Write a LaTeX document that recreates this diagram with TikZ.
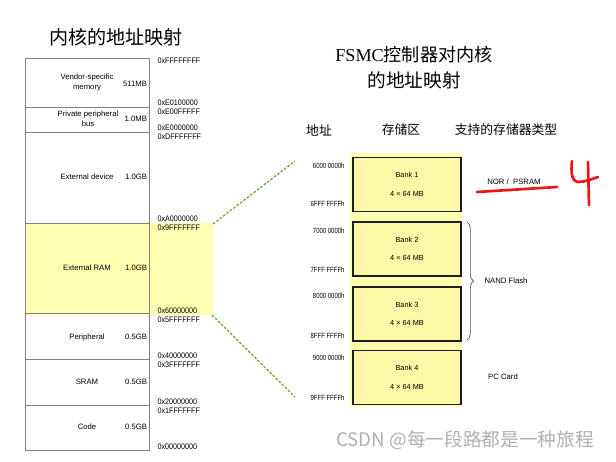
\documentclass[tikz,border=0pt]{standalone}
\usepackage{fontspec}
\setmainfont{Liberation Sans}
\newfontfamily\cjk{Noto Sans CJK SC}
\newfontfamily\titlerm{Liberation Serif}
\newfontfamily\hexsans[FakeStretch=0.9]{Liberation Sans}
\newfontfamily\addrsans[FakeStretch=0.8]{Liberation Sans}
\usetikzlibrary{decorations.pathreplacing}

\definecolor{mapgray}{RGB}{130,130,130}
\definecolor{ramyellow}{RGB}{255,255,178}
\definecolor{bankyellow}{RGB}{252,248,165}
\definecolor{linkgreen}{RGB}{105,165,50}
\definecolor{markred}{RGB}{240,20,20}
\definecolor{wmgray}{RGB}{175,175,175}

\tikzset{every picture/.style={line width=0.75pt}}
\tikzset{
  memtxt/.style={inner sep=0.75pt, font=\fontsize{5.8}{7.5}\selectfont, align=center},
  hexlbl/.style={anchor=west, inner sep=0.75pt, font=\hexsans\fontsize{6}{7}\selectfont},
  addrlbl/.style={anchor=east, inner sep=0.75pt, font=\addrsans\fontsize{5.6}{6}\selectfont},
  bankbox/.style={draw={rgb,255:red,30;green,30;blue,30}, fill=bankyellow, line width=1.1pt,
    minimum width=81pt, minimum height=40.5pt, inner sep=0pt, align=center,
    font=\fontsize{5.5}{14}\selectfont},
  typetxt/.style={inner sep=0.75pt, font=\fontsize{5.8}{7}\selectfont},
  headtxt/.style={inner sep=0.75pt, font=\cjk\fontsize{9.6}{11}\selectfont},
}

\begin{document}
\begin{tikzpicture}[x=0.75pt,y=0.75pt,yscale=-1,xscale=1]
\useasboundingbox (0,0) rectangle (616,461);

%Shape: Rectangle (highlight of external RAM)
\fill [ramyellow] (25,223) rectangle (213,315);
%Shape: Rectangle (memory map)
\draw [mapgray] (25,58) rectangle (149,450);
\foreach \y in {107,132,223,313,359,405}
  \draw [mapgray] (25,\y) -- (149,\y);

% Text Node
\draw (116,37) node [inner sep=0.75pt] [font=\cjk\fontsize{14.3}{16}\selectfont] (ttlcore) {内核的地址映射};

% region names
\draw (87,82) node [memtxt] (vend) {Vendor-specific\\memory};
\draw (88,119) node [memtxt] (ppb) {Private peripheral\\bus};
\draw (87,177) node [memtxt] (extdev) {External device};
\draw (87,268) node [memtxt] (extram) {External RAM};
\draw (87,337) node [memtxt] (periph) {Peripheral};
\draw (87,382) node [memtxt] (sram) {SRAM};
\draw (87,427) node [memtxt] (code) {Code};

% region sizes
\draw (148.5,84) node [memtxt,anchor=east] (vendsz) {511MB};
\draw (148.5,119) node [memtxt,anchor=east] (ppbsz) {1.0MB};
\draw (148.5,177) node [memtxt,anchor=east] (extdevsz) {1.0GB};
\draw (148.5,268) node [memtxt,anchor=east] (extramsz) {1.0GB};
\draw (148.5,337) node [memtxt,anchor=east] (periphsz) {0.5GB};
\draw (148.5,382) node [memtxt,anchor=east] (sramsz) {0.5GB};
\draw (148.5,427) node [memtxt,anchor=east] (codesz) {0.5GB};

% boundary addresses
\draw (156,61) node [hexlbl] (hFFFF) {0xFFFFFFFF};
\draw (156,103) node [hexlbl] (hE010) {0xE0100000};
\draw (156,112) node [hexlbl] (hE00F) {0xE00FFFFF};
\draw (156,128) node [hexlbl] (hE000) {0xE0000000};
\draw (156,137) node [hexlbl] (hDFFF) {0xDFFFFFFF};
\draw (156,219) node [hexlbl] (hA000) {0xA0000000};
\draw (156,228) node [hexlbl] (h9FFF) {0x9FFFFFFF};
\draw (156,311) node [hexlbl] (h6000) {0x60000000};
\draw (156,320) node [hexlbl] (h5FFF) {0x5FFFFFFF};
\draw (156,356) node [hexlbl] (h4000) {0x40000000};
\draw (156,365) node [hexlbl] (h3FFF) {0x3FFFFFFF};
\draw (156,402) node [hexlbl] (h2000) {0x20000000};
\draw (156,411) node [hexlbl] (h1FFF) {0x1FFFFFFF};
\draw (156,447) node [hexlbl] (h0000) {0x00000000};

% FSMC title and column heads
\draw (414,55) node [inner sep=0.75pt] [font=\cjk\fontsize{13.6}{16}\selectfont] (ttlfsmc) {{\titlerm FSMC}控制器对内核};
\draw (414,80) node [inner sep=0.75pt] [font=\cjk\fontsize{14}{16}\selectfont] (ttlmap) {的地址映射};
\draw (319,130) node [headtxt] (hdaddr) {地址};
\draw (401,130) node [headtxt] (hdbank) {存储区};
\draw (506,130) node [headtxt] (hdtype) {支持的存储器类型};

%Shape: Rectangle (bank column)
\fill [ramyellow] (350,153) rectangle (462,407);

% banks
\draw (407,184.5) node [bankbox] (bank1) {Bank 1\\4 × 64 MB};
\draw (407,249) node [bankbox] (bank2) {Bank 2\\4 × 64 MB};
\draw (407,314) node [bankbox] (bank3) {Bank 3\\4 × 64 MB};
\draw (407,377.5) node [bankbox] (bank4) {Bank 4\\4 × 64 MB};

% bank addresses
\draw (346,166) node [addrlbl] (a6000) {6000 0000h};
\draw (346,204) node [addrlbl] (a6FFF) {6FFF FFFFh};
\draw (346,231) node [addrlbl] (a7000) {7000 0000h};
\draw (346,270) node [addrlbl] (a7FFF) {7FFF FFFFh};
\draw (346,296) node [addrlbl] (a8000) {8000 0000h};
\draw (346,336) node [addrlbl] (a8FFF) {8FFF FFFFh};
\draw (346,358) node [addrlbl] (a9000) {9000 0000h};
\draw (346,398) node [addrlbl] (a9FFF) {9FFF FFFFh};

% memory types
\draw (514,182) node [typetxt] (nor) {NOR /\ \ PSRAM};
\draw (483,281) node [typetxt,anchor=west] (nand) {NAND Flash};
\draw (503,377) node [typetxt] (pccard) {PC Card};
\coordinate (nandtop) at (467,222);
\coordinate (nandbot) at (467,340);
\draw [black!70,line width=0.5pt,decorate,decoration={brace,amplitude=5pt}] (nandtop) -- (nandbot);

% links from external RAM to FSMC banks
\coordinate (ramtop) at (213,224);
\coordinate (rambot) at (212,315);
\coordinate (fsmctop) at (295,161);
\coordinate (fsmcbot) at (295,397);
\draw [linkgreen,line width=0.9pt,dash pattern={on 2pt off 1.2pt}] (ramtop) -- (fsmctop);
\draw [linkgreen,line width=0.9pt,dash pattern={on 2pt off 1.2pt}] (rambot) -- (fsmcbot);

% hand marks
\draw [markred,line width=2pt,line cap=round] (477,192) -- (557,187);
\draw [markred,line width=2pt,line cap=round] (572,161) .. controls (571,171) and (571,181) .. (578,182) .. controls (585,182) and (592,179) .. (598,177);
\draw [markred,line width=2pt,line cap=round] (588,162) -- (589,205);

% watermark
\draw (465,440) node [inner sep=0.75pt] [font=\cjk\fontsize{14}{16}\selectfont,text=wmgray] (wmark) {CSDN @每一段路都是一种旅程};

\end{tikzpicture}
\end{document}
